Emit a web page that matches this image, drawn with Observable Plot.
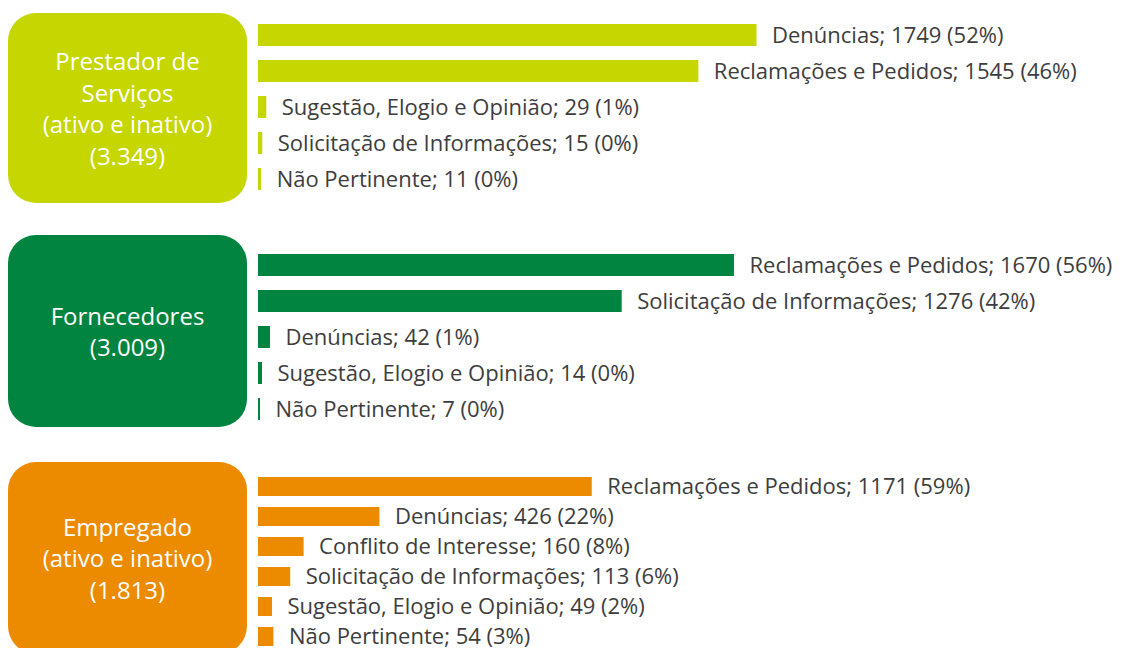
<!DOCTYPE html>
<html>
<head>
<meta charset="utf-8">
<script src="https://cdn.jsdelivr.net/npm/d3@7"></script>
<script src="https://cdn.jsdelivr.net/npm/@observablehq/plot@0.6"></script>
<style>
  html, body { margin: 0; padding: 0; background: #fff; }
  #root { position: relative; width: 1133px; height: 648px; overflow: hidden; font-family: "Open Sans", "Noto Sans", sans-serif; }
  .box { position: absolute; left: 8px; width: 239px; border-radius: 28px; color: #fff;
         display: flex; align-items: center; justify-content: center; text-align: center;
         font-size: 24px; line-height: 31.5px; }
  .chart { position: absolute; left: 258px; }
</style>
</head>
<body>
<div id="root"></div>
<script>
// ---- data ----
const groupNames = ["Prestador de Serviços", "Fornecedores", "Empregado"];
const groupBoxLines = [
  ["Prestador de", "Serviços", "(ativo e inativo)", "(3.349)"],
  ["Fornecedores", "(3.009)"],
  ["Empregado", "(ativo e inativo)", "(1.813)"]
];
const groupColors = ["#c5d600", "#00843f", "#ec8b00"];

const prestadorCategories = ["Denúncias", "Reclamações e Pedidos", "Sugestão, Elogio e Opinião", "Solicitação de Informações", "Não Pertinente"];
const prestadorValues = [1749, 1545, 29, 15, 11];
const prestadorPercents = [52, 46, 1, 0, 0];

const fornecedoresCategories = ["Reclamações e Pedidos", "Solicitação de Informações", "Denúncias", "Sugestão, Elogio e Opinião", "Não Pertinente"];
const fornecedoresValues = [1670, 1276, 42, 14, 7];
const fornecedoresPercents = [56, 42, 1, 0, 0];

const empregadoCategories = ["Reclamações e Pedidos", "Denúncias", "Conflito de Interesse", "Solicitação de Informações", "Sugestão, Elogio e Opinião", "Não Pertinente"];
const empregadoValues = [1171, 426, 160, 113, 49, 54];
const empregadoPercents = [59, 22, 8, 6, 2, 3];

// ---- layout ----
const layout = [
  {boxTop: 13, boxHeight: 190, chartTop: 16, step: 36.6},
  {boxTop: 235, boxHeight: 192, chartTop: 246, step: 36.6},
  {boxTop: 462, boxHeight: 192, chartTop: 469, step: 30.6}
];
const cats = [prestadorCategories, fornecedoresCategories, empregadoCategories];
const vals = [prestadorValues, fornecedoresValues, empregadoValues];
const pcts = [prestadorPercents, fornecedoresPercents, empregadoPercents];

const root = document.getElementById("root");

groupNames.forEach((g, i) => {
  const L = layout[i];
  const box = document.createElement("div");
  box.className = "box";
  box.style.top = L.boxTop + "px";
  box.style.height = L.boxHeight + "px";
  box.style.background = groupColors[i];
  box.innerHTML = "<div>" + groupBoxLines[i].join("<br>") + "</div>";
  root.appendChild(box);

  const data = cats[i].map((c, k) => ({cat: c, value: vals[i][k], pct: pcts[i][k]}));
  const n = data.length;
  const chart = Plot.plot({
    width: 875,
    height: Math.round(n * L.step),
    margin: 0,
    x: {domain: [0, 3070], axis: null},
    y: {domain: cats[i], axis: null, paddingInner: 0.38, paddingOuter: 0.19},
    style: {fontFamily: '"Open Sans", "Noto Sans", sans-serif', fontSize: "22px", overflow: "visible", background: "transparent"},
    marks: [
      Plot.barX(data, {x: "value", y: "cat", fill: groupColors[i]}),
      Plot.text(data, {
        x: "value", y: "cat",
        text: d => `${d.cat}; ${d.value} (${d.pct}%)`,
        textAnchor: "start", dx: 15, fill: "#3d3d3d", fontSize: 22
      })
    ]
  });
  const wrap = document.createElement("div");
  wrap.className = "chart";
  wrap.style.top = L.chartTop + "px";
  wrap.appendChild(chart);
  root.appendChild(wrap);
});
</script>
</body>
</html>
